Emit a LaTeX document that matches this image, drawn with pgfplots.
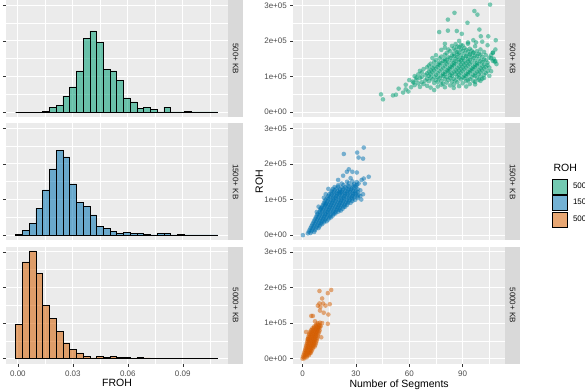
\documentclass[border=0pt]{standalone}
\usepackage{pgfplots}
\pgfplotsset{compat=1.18}
\usepackage{fontspec}
\setmainfont{Liberation Sans}
\definecolor{panelbg}{HTML}{EBEBEB}
\definecolor{stripbg}{HTML}{D9D9D9}
\definecolor{ticklab}{HTML}{4D4D4D}
\definecolor{tickcol}{HTML}{333333}
\definecolor{striptext}{HTML}{1A1A1A}
\definecolor{cgreen}{HTML}{009E73}
\definecolor{cblue}{HTML}{0072B2}
\definecolor{corange}{HTML}{D55E00}
\newcommand\tickfont{\fontsize{8}{9.6}\selectfont}
\newcommand\titlefont{\fontsize{10.5}{12}\selectfont}
\newcommand\stripfont{\fontsize{8}{9.6}\selectfont}

\pgfplotsset{
  gg/.style={
    scale only axis, height=117.5pt,
    axis background/.style={fill=panelbg},
    axis line style={draw=none},
    xmajorgrids, ymajorgrids, xminorgrids, yminorgrids,
    major grid style={white, line width=1pt},
    minor grid style={white, line width=0.5pt},
    minor tick length=0pt,
    major tick length=3pt,
    tick align=outside, tickpos=left,
    tick style={tickcol, line width=0.5pt},
    ymin=-0.15, ymax=3.15,
    ytick={0,1,2,3}, minor ytick={0.5,1.5,2.5},
    ticklabel style={font=\tickfont, text=ticklab},
    clip=false,
  },
  histL/.style={gg, width=222pt,
    xmin=-0.0065, xmax=0.1147,
    xtick={0,0.03,0.06,0.09}, minor xtick={0.015,0.045,0.075,0.105},
    yticklabels={}},
  scatR/.style={gg, width=211.7pt,
    xmin=-5.2, xmax=113.8,
    xtick={0,30,60,90}, minor xtick={15,45,75,105},
    yticklabels={0e+00,1e+05,2e+05,3e+05}},
  notx/.style={xticklabels={}, xtick style={draw=none}},
  hbar/.style={ybar interval, fill=#1, fill opacity=0.55, draw=black, line width=0.5pt},
  pts/.style={only marks, mark=*, mark size=2.3pt, color=#1, mark options={draw opacity=0, fill=#1, fill opacity=0.5}},
}
\newcommand\strip[1]{%
  \fill[stripbg] (rel axis cs:1,0) rectangle ([xshift=15pt]rel axis cs:1,1);
  \node[rotate=-90, font=\stripfont, text=striptext] at ([xshift=7.5pt]rel axis cs:1,0.5) {#1};}

\begin{document}
\begin{tikzpicture}
\path[use as bounding box] (0,0) rectangle (585pt,390pt);

% ---------------- left: histograms ----------------
\begin{axis}[histL, notx, at={(6pt,272.5pt)}, anchor=south west]
\addplot[hbar=cgreen] coordinates {
(-0.00122,0)(0.00246,0)(0.00613,0)(0.00981,0)(0.01349,0.02)(0.01716,0.14)(0.02084,0.20)(0.02452,0.45)(0.02820,0.71)(0.03187,1.16)
(0.03555,2.07)(0.03923,2.28)(0.04290,1.96)(0.04658,1.21)(0.05026,1.16)(0.05394,0.89)(0.05761,0.40)(0.06129,0.29)(0.06497,0.11)(0.06864,0.13)
(0.07232,0.08)(0.07600,0.01)(0.07967,0.14)(0.08335,0.01)(0.08703,0.01)(0.09071,0.03)(0.09438,0.01)(0.09806,0.01)(0.10174,0.01)(0.10541,0.01)(0.10909,0)};
\strip{500+ KB}
\end{axis}

\begin{axis}[histL, notx, at={(6pt,149.5pt)}, anchor=south west]
\addplot[hbar=cblue] coordinates {
(-0.00122,0.03)(0.00246,0.14)(0.00613,0.34)(0.00981,0.75)(0.01349,1.27)(0.01716,1.86)(0.02084,2.38)(0.02452,2.20)(0.02820,1.44)(0.03187,0.92)
(0.03555,0.81)(0.03923,0.57)(0.04290,0.25)(0.04658,0.19)(0.05026,0.11)(0.05394,0.05)(0.05761,0.07)(0.06129,0.06)(0.06497,0.06)(0.06864,0.03)
(0.07232,0.01)(0.07600,0.06)(0.07967,0.04)(0.08335,0.01)(0.08703,0.03)(0.09071,0.01)(0.09438,0.01)(0.09806,0.01)(0.10174,0.01)(0.10541,0.01)(0.10909,0)};
\strip{1500+ KB}
\end{axis}

\begin{axis}[histL, at={(6pt,26pt)}, anchor=south west,
  xticklabels={0.00,0.03,0.06,0.09},
  xlabel={FROH}, xlabel style={font=\titlefont, at={(axis description cs:0.5,0)}, anchor=base, yshift=-23pt}]
\addplot[hbar=corange] coordinates {
(-0.00122,0.96)(0.00246,2.72)(0.00613,3.03)(0.00981,2.40)(0.01349,1.50)(0.01716,1.13)(0.02084,0.77)(0.02452,0.44)(0.02820,0.26)(0.03187,0.16)
(0.03555,0.06)(0.03923,0.02)(0.04290,0.06)(0.04658,0.04)(0.05026,0.06)(0.05394,0.04)(0.05761,0.04)(0.06129,0.01)(0.06497,0.04)(0.06864,0.02)
(0.07232,0.01)(0.07600,0.01)(0.07967,0.01)(0.08335,0.01)(0.08703,0.01)(0.09071,0.01)(0.09438,0.01)(0.09806,0.01)(0.10174,0.01)(0.10541,0.01)(0.10909,0)};
\strip{5000+ KB}
\end{axis}

% ---------------- right: scatter ----------------
\begin{axis}[scatR, notx, at={(293.3pt,272.5pt)}, anchor=south west]
\addplot[pts=cgreen] coordinates {
(44.1,0.50)(45.2,0.36)(50.8,0.47)(52.5,0.49)(54,0.66)(56.5,0.55)(58,0.64)(59.5,0.58)(61,0.70)(62.4,0.83)(60,0.90)(64,0.97)(58,0.77)(74,0.62)(85,0.68)(92,0.72)(97,0.78)(100,0.88)(102,0.96)(105,1.02)(106,1.15)
(66,0.71)(72,0.69)(76,0.72)(80,0.70)
(63,0.76)(70,0.74)(78,0.77)(83,0.75)(88,0.73)
(65,0.81)(68,0.79)(74,0.82)(79,0.80)(85,0.78)(90,0.81)(94,0.79)
(62,0.86)(67,0.84)(71,0.87)(76,0.85)(81,0.83)(84,0.86)(87,0.84)(92,0.87)(97,0.85)
(64,0.91)(69,0.89)(73,0.92)(75,0.90)(78,0.88)(82,0.91)(86,0.89)(89,0.92)(93,0.90)(96,0.88)(99,0.91)
(66,0.96)(70,0.94)(72,0.97)(77,0.95)(80,0.93)(83,0.96)(85,0.94)(88,0.97)(91,0.95)(94,0.93)(98,0.96)(101,0.94)
(63,1.01)(67,0.99)(71,1.02)(74,1.00)(76,0.98)(79,1.01)(81,0.99)(84,1.02)(87,1.00)(90,0.98)(92,1.01)(95,0.99)(97,1.02)(100,1.00)
(65,1.06)(69,1.04)(72,1.07)(75,1.05)(78,1.03)(80,1.06)(83,1.04)(86,1.07)(88,1.05)(91,1.03)(93,1.06)(96,1.04)(99,1.07)(102,1.05)
(67,1.11)(70,1.09)(73,1.12)(76,1.10)(79,1.08)(82,1.11)(84,1.09)(87,1.12)(89,1.10)(92,1.08)(94,1.11)(97,1.09)(100,1.12)(103,1.10)
(66,1.16)(71,1.14)(74,1.17)(77,1.15)(80,1.13)(82,1.16)(85,1.14)(88,1.17)(90,1.15)(93,1.13)(95,1.16)(98,1.14)(101,1.17)(104,1.15)
(68,1.21)(72,1.19)(75,1.22)(78,1.20)(81,1.18)(83,1.21)(86,1.19)(89,1.22)(91,1.20)(94,1.18)(96,1.21)(99,1.19)(102,1.22)
(70,1.26)(73,1.24)(76,1.27)(79,1.25)(82,1.23)(84,1.26)(87,1.24)(90,1.27)(92,1.25)(95,1.23)(97,1.26)(100,1.24)(103,1.27)(105,1.25)
(71,1.31)(74,1.29)(77,1.32)(80,1.30)(83,1.28)(85,1.31)(88,1.29)(91,1.32)(93,1.30)(96,1.28)(98,1.31)(101,1.29)(104,1.32)
(72,1.36)(76,1.34)(78,1.37)(81,1.35)(84,1.33)(86,1.36)(89,1.34)(92,1.37)(94,1.35)(97,1.33)(99,1.36)(102,1.34)
(74,1.41)(77,1.39)(80,1.42)(82,1.40)(85,1.38)(88,1.41)(90,1.39)(93,1.42)(95,1.40)(98,1.38)(101,1.41)(104,1.39)(108,1.42)
(75,1.46)(79,1.44)(81,1.47)(84,1.45)(86,1.43)(89,1.46)(91,1.44)(94,1.47)(97,1.45)(100,1.43)(103,1.46)(107,1.44)
(77,1.51)(80,1.49)(83,1.52)(86,1.50)(88,1.48)(90,1.51)(93,1.49)(96,1.52)(99,1.50)(102,1.48)(106,1.51)
(78,1.56)(82,1.54)(85,1.57)(87,1.55)(90,1.53)(92,1.56)(95,1.54)(98,1.57)(101,1.55)(105,1.53)
(80,1.61)(84,1.59)(87,1.62)(89,1.60)(92,1.58)(94,1.61)(97,1.59)(100,1.62)(103,1.60)
(81,1.66)(85,1.64)(88,1.67)(91,1.65)(94,1.63)(96,1.66)(99,1.64)(107,1.67)
(83,1.71)(87,1.69)(90,1.72)(93,1.70)(96,1.68)(98,1.71)(102,1.69)
(82,1.76)(86,1.74)(89,1.77)(92,1.75)(95,1.73)(100,1.76)
(80,1.81)(85,1.79)(88,1.82)(91,1.80)(94,1.78)
(84,1.86)(87,1.84)(90,1.87)(97,1.85)
(86,1.91)(89,1.89)(93,1.92)
(105.4,3.02)(96.6,2.84)(98.3,2.74)(85.4,2.79)(81.7,2.60)(92.7,2.51)(76.8,2.25)(81.7,2.29)(86.7,2.28)(89.5,2.20)(99.4,2.32)(100.2,2.13)(104.4,2.13)(108.6,2.02)(96,2.02)(97.5,1.96)(101,1.98)(88,2.00)(93,1.96)(104,1.88)(108.4,1.43)(107.5,1.50)(108.4,1.76)(107,1.67)(106,1.60)(109,1.35)(75,1.60)(73,1.52)(78,1.75)(80,1.92)};
\strip{500+ KB}
\end{axis}

\begin{axis}[scatR, notx, at={(293.3pt,149.5pt)}, anchor=south west,
  ylabel={ROH}, ylabel style={font=\titlefont, at={(axis description cs:0,0.5)}, anchor=center, yshift=34pt}]
\addplot[pts=cblue] coordinates {
(0.2,0.00)
(3,0.05)(4.5,0.06)
(3.5,0.10)(5,0.11)(6.5,0.09)
(4,0.15)(5.5,0.16)(7,0.14)
(4.5,0.20)(6,0.21)(7.5,0.19)(9,0.20)
(5,0.25)(6.5,0.26)(8,0.24)(9.5,0.25)
(5.5,0.30)(7,0.31)(8.5,0.29)(10,0.30)(11,0.31)
(6,0.35)(7.5,0.36)(9,0.34)(10.5,0.35)(12,0.36)
(6.5,0.40)(8,0.41)(9.5,0.39)(11,0.40)(12.5,0.41)(13.5,0.39)
(7,0.45)(8.5,0.46)(10,0.44)(11.5,0.45)(13,0.46)(14.5,0.44)
(7.5,0.50)(9,0.51)(10.5,0.49)(12,0.50)(13.5,0.51)(15,0.49)(16,0.50)
(8,0.55)(9.5,0.56)(11,0.54)(12.5,0.55)(14,0.56)(15.5,0.54)(17,0.55)
(8.5,0.60)(10,0.61)(11.5,0.59)(13,0.60)(14.5,0.61)(16,0.59)(17.5,0.60)(18.5,0.61)
(9.5,0.65)(11,0.66)(12.5,0.64)(14,0.65)(15.5,0.66)(17,0.64)(18.5,0.65)(20,0.66)
(10,0.70)(11.5,0.71)(13,0.69)(14.5,0.70)(16,0.71)(17.5,0.69)(19,0.70)(20.5,0.71)(21.5,0.69)
(10.5,0.75)(12,0.76)(13.5,0.74)(15,0.75)(16.5,0.76)(18,0.74)(19.5,0.75)(21,0.76)(22.5,0.74)
(11,0.80)(12.5,0.81)(14,0.79)(15.5,0.80)(17,0.81)(18.5,0.79)(20,0.80)(21.5,0.81)(23,0.79)(24,0.80)
(11.5,0.85)(13,0.86)(14.5,0.84)(16,0.85)(17.5,0.86)(19,0.84)(20.5,0.85)(22,0.86)(23.5,0.84)(25,0.85)
(12,0.90)(13.5,0.91)(15,0.89)(16.5,0.90)(18,0.91)(19.5,0.89)(21,0.90)(22.5,0.91)(24,0.89)(25.5,0.90)(27,0.91)
(12.5,0.95)(14,0.96)(15.5,0.94)(17,0.95)(18.5,0.96)(20,0.94)(21.5,0.95)(23,0.96)(24.5,0.94)(26,0.95)(28,0.96)
(13,1.00)(14.5,1.01)(16,0.99)(17.5,1.00)(19,1.01)(20.5,0.99)(22,1.00)(23.5,1.01)(25,0.99)(26.5,1.00)(28,1.01)(29.5,0.99)
(14,1.05)(15.5,1.06)(17,1.04)(18.5,1.05)(20,1.06)(21.5,1.04)(23,1.05)(24.5,1.06)(26,1.04)(27.5,1.05)(29,1.06)(31,1.04)
(14.5,1.10)(16,1.11)(17.5,1.09)(19,1.10)(20.5,1.11)(22,1.09)(23.5,1.10)(25,1.11)(26.5,1.09)(28,1.10)(29.5,1.11)(31,1.09)(32.5,1.10)
(15,1.15)(16.5,1.16)(18,1.14)(19.5,1.15)(21,1.16)(22.5,1.14)(24,1.15)(25.5,1.16)(27,1.14)(28.5,1.15)(30,1.16)(31.5,1.14)
(16,1.20)(17.5,1.21)(19,1.19)(20.5,1.20)(22,1.21)(23.5,1.19)(25,1.20)(26.5,1.21)(28,1.19)(29.5,1.20)(31,1.21)
(16.5,1.25)(18,1.26)(19.5,1.24)(21,1.25)(22.5,1.26)(24,1.24)(25.5,1.25)(27,1.26)(28.5,1.24)(30,1.25)
(17,1.30)(19,1.31)(21,1.29)(23,1.30)(24.5,1.31)(26,1.29)(27.5,1.30)(29,1.31)(31,1.29)
(18,1.35)(20,1.36)(22,1.34)(24,1.35)(26,1.36)(28,1.34)(30,1.35)
(20,1.40)(23,1.41)(25.5,1.39)(28,1.40)(30.5,1.41)
(22,1.45)(26,1.46)(29,1.44)(31.5,1.45)
(25,1.50)(28,1.51)(30.5,1.49)
(23.2,2.28)(30.7,2.32)(34.4,2.46)(31.5,2.18)(34.0,2.15)(26.0,1.85)(24.9,1.78)(28,1.78)(30.5,1.76)(22.8,1.67)(34.4,1.59)(37.2,1.64)(33.2,1.55)(10.1,0.75)(12.9,0.87)(21.3,1.20)(29.7,1.39)(32.5,1.26)(35,1.45)(27,1.60)(20,1.55)(33,1.00)(34,1.15)(8,0.65)(9,0.80)(13,1.15)(14.5,1.30)(12,1.05)};
\strip{1500+ KB}
\end{axis}

\begin{axis}[scatR, at={(293.3pt,26pt)}, anchor=south west,
  xticklabels={0,30,60,90},
  xlabel={Number of Segments}, xlabel style={font=\titlefont, at={(axis description cs:0.5,0)}, anchor=base, yshift=-23pt},
  legend image code/.code={\draw[#1] (0pt,-7.5pt) rectangle (15pt,7.5pt);},
  legend style={at={(1.2187,1.5804)}, anchor=north west, draw=none, fill=none, inner sep=0pt, row sep=1pt, column sep=5.5pt,
    font=\tickfont, nodes={inner sep=0.5pt, anchor=west}},
  legend cell align=left]
\addlegendimage{fill=cgreen, fill opacity=0.55, draw=black, line width=0.5pt}
\addlegendentry{500+ KB}
\addlegendimage{fill=cblue, fill opacity=0.55, draw=black, line width=0.5pt}
\addlegendentry{1500+ KB}
\addlegendimage{fill=corange, fill opacity=0.55, draw=black, line width=0.5pt}
\addlegendentry{5000+ KB}
\addplot[pts=corange, forget plot] coordinates {
(0,0.00)(1,0.01)
(0.3,0.05)(1.3,0.06)(2.3,0.04)
(0.6,0.10)(1.6,0.11)(2.6,0.09)(3.6,0.10)
(0.9,0.15)(1.9,0.16)(2.9,0.14)(3.9,0.15)(4.6,0.16)
(1.2,0.20)(2.2,0.21)(3.2,0.19)(4.2,0.20)(5.0,0.21)
(1.5,0.25)(2.5,0.26)(3.5,0.24)(4.5,0.25)(5.5,0.26)
(1.8,0.30)(2.8,0.31)(3.8,0.29)(4.8,0.30)(5.8,0.31)
(2.0,0.35)(3.0,0.36)(4.0,0.34)(5.0,0.35)(6.0,0.36)(6.8,0.34)
(2.3,0.40)(3.3,0.41)(4.3,0.39)(5.3,0.40)(6.3,0.41)(7.2,0.39)
(2.5,0.45)(3.5,0.46)(4.5,0.44)(5.5,0.45)(6.5,0.46)(7.5,0.44)
(2.8,0.50)(3.8,0.51)(4.8,0.49)(5.8,0.50)(6.8,0.51)(7.8,0.49)
(3.0,0.55)(4.0,0.56)(5.0,0.54)(6.0,0.55)(7.0,0.56)(8.0,0.54)
(3.3,0.60)(4.3,0.61)(5.3,0.59)(6.3,0.60)(7.3,0.61)(8.3,0.59)
(3.5,0.65)(4.5,0.66)(5.5,0.64)(6.5,0.65)(7.5,0.66)(8.5,0.64)
(3.8,0.70)(4.8,0.71)(5.8,0.69)(6.8,0.70)(7.8,0.71)(8.8,0.69)
(4.2,0.75)(5.2,0.76)(6.2,0.74)(7.2,0.75)(8.2,0.76)(9.2,0.74)
(4.8,0.80)(5.8,0.81)(6.8,0.79)(7.8,0.80)(8.8,0.81)(9.6,0.79)
(5.5,0.85)(6.5,0.86)(7.5,0.84)(8.5,0.85)(9.5,0.86)
(6.5,0.90)(7.5,0.91)(8.5,0.89)(9.5,0.90)(10.2,0.91)
(7.5,0.95)(8.5,0.96)(9.5,0.94)
(8.5,1.00)(9.8,1.01)
(9.5,1.90)(16.1,1.93)(14.2,1.84)(11,1.69)(9.5,1.55)(8.6,1.49)(12.9,1.49)(15.3,1.53)(10,1.45)(4.9,1.20)(5.8,1.20)(11.9,1.29)(14.5,1.24)(14.2,0.98)(7,1.05)(11,1.00)(3,0.55)(10.5,0.60)(2,0.75)(9.8,1.35)(11.5,1.55)};
\strip{5000+ KB}
\end{axis}

\node[font=\titlefont, anchor=base west, inner sep=0pt] at (553.3pt,218pt) {ROH};
\end{tikzpicture}
\end{document}
